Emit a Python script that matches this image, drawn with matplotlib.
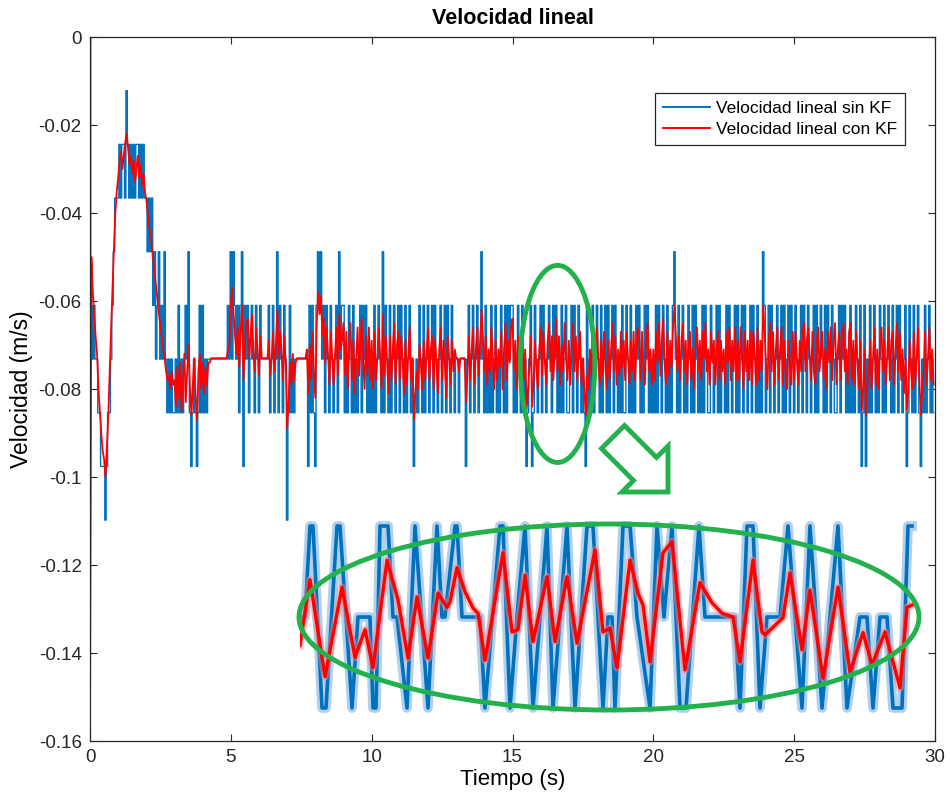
import numpy as np
import matplotlib
matplotlib.use("Agg")
import matplotlib.pyplot as plt
from matplotlib.patches import Ellipse, Polygon

plt.rcParams['font.family'] = ['Liberation Sans', 'DejaVu Sans']

# ---------------- data ----------------
DT = 0.05          # s between samples
QSTEP = 0.0122     # quantisation step of the raw velocity (m/s)

# raw velocity, as multiples of -QSTEP, one char per sample
BLUE_LEVELS = "".join([
    "05656677888987765433", "32322312323232232323", "34343546546564676767",
    "76757676564787678757", "57676666666666666656", "46456575485657656756",
    "75666665765764756756", "97576766666666685757", "85454657567567657465",
    "57675675767657565767", "67576567475675765765", "75675765768767567576",
    "57657567657657567567", "66766668657657657646", "75767576576756757565",
    "57675675768765875676", "57567656756576757657", "76575675676785767576",
    "56757657576575676757", "75675767565767565767", "67575675675767546757",
    "65767567575676757567", "75676575766757567657", "57657567657567576745",
    "76575676576575765756", "75676575675676575765", "67575675677657565767",
    "57675675875867576576", "75675765675765756765", "87567576578675765767",
])

# filtered velocity, in -0.001 m/s, one value per sample
RED_MILLI = """
155 50 58 63 68 72 80 85 90 94 96 100 93 86 76 66 57 48 40 35
32 28 26 30 27 24 22 25 29 27 31 28 33 30 27 32 29 34 31 35
37 40 43 45 48 51 54 57 60 63 66 68 71 73 76 78 77 80 76 79
78 84 75 82 74 85 78 72 83 76 70 80 86 79 73 82 87 76 72 80
74 81 75 79 74 74 73 73 73 73 73 73 73 73 73 73 73 73 71 70
61 57 63 68 72 66 75 67 61 78 70 65 64 73 68 63 72 76 66 71
77 68 73 73 73 73 73 69 77 73 67 76 70 62 73 67 71 78 68 74
89 83 74 79 72 78 74 73 73 73 73 73 73 73 71 81 70 78 67 76
82 65 58 63 59 68 64 74 66 72 79 67 73 79 72 66 77 63 71 69
65 77 67 80 70 65 78 69 81 73 66 77 70 64 74 80 68 77 66 78
69 80 67 78 73 66 72 80 63 77 68 74 81 68 78 71 65 79 70 67
78 68 74 81 69 79 72 66 78 73 87 81 76 80 70 75 80 69 78 72
66 78 71 68 80 69 74 81 71 66 78 69 75 82 68 73 79 69 76 71
73 73 76 73 73 73 73 83 77 68 78 71 66 79 71 66 77 69 62 68
76 68 79 71 76 66 73 80 69 78 71 75 67 80 71 65 78 69 74 66
64 76 69 80 68 74 81 69 78 71 85 80 75 68 84 78 69 76 80 71
66 77 67 74 79 69 65 76 68 78 71 64 76 68 79 70 76 65 73 78
69 79 71 65 76 68 78 71 67 79 73 80 86 77 80 71 77 67 75 71
66 74 79 69 77 67 75 80 69 78 71 65 76 68 79 71 77 67 75 69
78 67 73 79 69 76 67 78 71 66 69 78 67 75 79 69 65 76 71 79
71 78 67 74 65 77 69 64 74 79 67 77 69 75 66 61 68 76 68 78
69 65 76 69 79 71 67 78 71 80 69 66 76 69 78 67 73 65 76 71
79 67 74 69 79 71 67 78 69 76 71 79 67 74 66 78 69 76 66 78
69 78 66 73 80 67 76 69 78 67 79 67 72 79 66 78 69 76 61 67
74 80 69 65 76 67 79 71 66 78 71 66 79 69 76 80 69 74 79 67
78 67 74 79 69 76 67 65 76 69 66 72 78 67 76 79 69 66 76 71
67 78 71 80 67 74 66 78 69 65 79 71 67 78 69 65 76 71 79 67
65 78 69 79 67 74 80 69 85 80 71 86 79 76 69 80 73 66 79 71
80 69 66 76 69 79 73 66 78 69 67 79 71 65 76 67 78 71 81 73
85 80 69 76 80 67 79 73 66 79 86 79 76 67 79 73 66 78 71 79
"""

# zoomed detail (inset): sample index and level (0 = -0.061, 1 = -0.0732, 2 = -0.0854)
INSET_BLUE_X = [0, 1, 2, 2.6, 4.4, 5.2, 7.4, 8, 10.4, 11.6, 14, 14.6, 15.2, 16, 17.6,
                18.6, 19.4, 21.4, 23, 25.6, 27.4, 28.4, 29, 31, 31.4, 32.4, 36, 37,
                40, 40.6, 42, 43.4, 45, 46.6, 49.4, 50.6, 53.4, 55, 57.4, 58.6, 60.6,
                61.6, 62.4, 63, 64.6, 66, 67.4, 70, 71.4, 72.8, 74.4, 76, 77.2, 79.8,
                81, 87, 88, 89.4, 90.6, 92, 93.4, 96, 97.6, 100.4, 102, 104.4, 107.6,
                109.4, 112, 113.4, 114.6, 116, 117.4, 118.6, 120.4, 121.6, 122.4]
INSET_BLUE_L = [1, 1, 0, 0, 2, 2, 0, 0, 2, 1, 1, 2, 2, 0, 0,
                1, 1, 2, 0, 2, 0, 1, 1, 0, 0, 1, 1, 2,
                0, 0, 2, 1, 0, 2, 0, 2, 0, 2, 0, 0, 2,
                1, 1, 2, 0, 0, 1, 2, 0, 1, 0, 2, 2, 0,
                1, 1, 2, 0, 0, 2, 1, 1, 0, 2, 0, 2, 0,
                2, 1, 1, 2, 1, 1, 2, 2, 0, 0]
INSET_RED_X = [0, 2, 5, 8.4, 11, 13, 14.6, 17.4, 19.6, 21.6, 23.4, 25.6, 27.6, 29.4,
               30, 31.4, 33, 34.6, 35.6, 37, 40.6, 42.4, 43.6, 45, 46.6, 49.4, 51,
               53.4, 55.4, 59, 60.6, 62, 63.4, 66, 67.6, 68.6, 70, 72.6, 74.4, 77,
               80, 82.4, 84.4, 86.6, 88, 90.6, 92.4, 93, 96.6, 98, 100.4, 102, 104.6,
               107.6, 110, 112.6, 114.4, 117, 120, 121.4, 122.4]
INSET_RED_V = [-0.0770, -0.0682, -0.0812, -0.0692, -0.0786, -0.0749, -0.0800, -0.0656,
               -0.0709, -0.0787, -0.0705, -0.0787, -0.0700, -0.0719, -0.0712, -0.0666,
               -0.0698, -0.0720, -0.0727, -0.0790, -0.0646, -0.0752, -0.0749, -0.0676,
               -0.0765, -0.0678, -0.0765, -0.0678, -0.0767, -0.0642, -0.0752, -0.0747,
               -0.0800, -0.0656, -0.0700, -0.0716, -0.0792, -0.0646, -0.0631, -0.0803,
               -0.0686, -0.0713, -0.0727, -0.0732, -0.0792, -0.0656, -0.0752, -0.0756,
               -0.0733, -0.0673, -0.0776, -0.0696, -0.0814, -0.0692, -0.0806, -0.0753,
               -0.0796, -0.0752, -0.0827, -0.0719, -0.0716]

TITLE = "Velocidad lineal"
XLABEL = "Tiempo (s)"
YLABEL = "Velocidad (m/s)"
LEG_BLUE = "Velocidad lineal sin KF"
LEG_RED = "Velocidad lineal con KF"
YTICKS = [-0.16, -0.14, -0.12, -0.1, -0.08, -0.06, -0.04, -0.02, 0]
YTICKLABELS = ["-0.16", "-0.14", "-0.12", "-0.1", "-0.08", "-0.06", "-0.04", "-0.02", "0"]
XTICKS = [0, 5, 10, 15, 20, 25, 30]

# ---------------- derived series ----------------
blue = -QSTEP * np.array([int(c) for c in BLUE_LEVELS])
t_blue = np.arange(len(blue)) * DT
red = -0.001 * np.array([float(v) for v in RED_MILLI.split()])
t_red = np.arange(len(red)) * DT

BLUE_C = "#0072BD"
RED_C = "#FF0000"
GREEN = "#22B14C"
W, H = 950, 807

fig = plt.figure(figsize=(9.5, 8.07), dpi=100)
fig.patch.set_facecolor("white")

def fx(px):
    return px / W

def fy(py):
    return 1 - py / H

ax = fig.add_axes([fx(90), fy(741), fx(935) - fx(90), fy(37) - fy(741)])
ax.plot(t_blue, blue, color=BLUE_C, lw=1.0, drawstyle="steps-mid", label=LEG_BLUE)
ax.plot(t_red, red, color=RED_C, lw=1.3, label=LEG_RED)
ax.set_xlim(0, 30)
ax.set_ylim(-0.16, 0)
ax.set_xticks(XTICKS)
ax.set_yticks(YTICKS)
ax.set_yticklabels(YTICKLABELS)
ax.tick_params(direction="in", top=True, right=True, length=5, width=0.8,
               labelsize=13.5, colors="#262626", pad=6)
for s in ax.spines.values():
    s.set_color("#262626")
    s.set_linewidth(0.9)
ax.set_title(TITLE, fontsize=15.5, fontweight="bold", pad=9)
ax.set_xlabel(XLABEL, fontsize=16, labelpad=2)
ax.set_ylabel(YLABEL, fontsize=16.5, labelpad=4)

leg = ax.legend(loc="upper right", bbox_to_anchor=(0.9645, 0.9205), borderaxespad=0,
                fontsize=12.5, fancybox=False, framealpha=1, edgecolor="#262626",
                handlelength=2.7, handletextpad=0.35, borderpad=0.45, labelspacing=0.35)
leg.get_frame().set_linewidth(0.9)
for h in leg.get_lines():
    h.set_linewidth(1.4)

# small ellipse around the zoomed region
ax.add_patch(Ellipse((16.6, -0.0743), 2.65, 0.0448, fill=False, ec=GREEN, lw=3.5, zorder=5))

# inset with the zoomed detail
PX = QSTEP / 91.0
iax = fig.add_axes([fx(300), fy(715), fx(925) - fx(300), fy(515) - fy(715)])
iax.set_xlim(0, 125)
iax.set_ylim(-0.061 - 189 * PX, -0.061 + 11 * PX)
iax.axis("off")
ib = -QSTEP * (5 + np.array(INSET_BLUE_L))
iax.plot(INSET_BLUE_X, ib, color="#8fbde6", lw=7, alpha=0.7)
iax.plot(INSET_BLUE_X, ib, color=BLUE_C, lw=2.6)
iax.plot(INSET_RED_X, INSET_RED_V, color="#ff8080", lw=5.5, alpha=0.5)
iax.plot(INSET_RED_X, INSET_RED_V, color=RED_C, lw=2.4)

# big ellipse and hollow arrow (figure coordinates)
fig.patches.append(Ellipse((fx(609), fy(617)), fx(620), 186 / H, fill=False, ec=GREEN,
                           lw=3.5, transform=fig.transFigure, figure=fig, zorder=10))
arrow_px = [(624.5, 425.5), (656.5, 457.5), (668, 446), (668, 492), (622, 492),
            (633.5, 480.5), (601.5, 448.5)]
fig.patches.append(Polygon([(fx(x), fy(y)) for x, y in arrow_px], closed=True,
                           fc="white", ec=GREEN, lw=3.5, joinstyle="miter",
                           transform=fig.transFigure, figure=fig, zorder=10))

fig.savefig("out.png", dpi=100, facecolor="white")
